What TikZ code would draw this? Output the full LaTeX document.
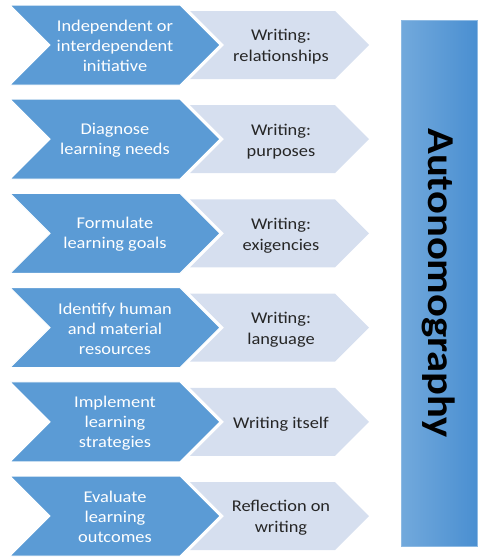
\documentclass[tikz,border=0pt]{standalone}
\usepackage{fontspec}
\setmainfont[FakeStretch=1.12]{Carlito}
\usetikzlibrary{calc}
\definecolor{darkblue}{HTML}{5B9BD5}
\definecolor{lightblue}{HTML}{D6DFEF}
\definecolor{txtgray}{HTML}{262626}
\definecolor{barleft}{HTML}{72A9DC}
\definecolor{barright}{HTML}{4A8FD1}
\tikzset{
  dk/.style={fill=darkblue, draw=white, line width=1pt},
  lt/.style={fill=lightblue, draw=none},
  dktext/.style={text=white, align=center, font=\fontsize{16.4}{20}\selectfont},
  lttext/.style={text=txtgray, align=center, font=\fontsize{16.4}{21}\selectfont},
}
\begin{document}
\begin{tikzpicture}[x=1pt,y=-1pt]
\useasboundingbox (0,0) rectangle (477,557);
\foreach \i/\a/\b in {0/{Independent or\\interdependent\\initiative}/{Writing:\\relationships},
                     1/{Diagnose\\learning needs}/{Writing:\\purposes},
                     2/{Formulate\\learning goals}/{Writing:\\exigencies},
                     3/{Identify human\\and material\\resources}/{Writing:\\language},
                     4/{Implement\\learning\\strategies}/{Writing itself},
                     5/{Evaluate\\learning\\outcomes}/{Reflection on\\writing}}{
  \pgfmathsetmacro{\c}{45+94.2*\i}
  \fill[lt] (190,\c-34) -- (335,\c-34) -- (369,\c) -- (335,\c+34) -- (190,\c+34) -- (224,\c) -- cycle;
  \fill[dk] (10,\c-40) -- (180,\c-40) -- (220,\c) -- (180,\c+40) -- (10,\c+40) -- (50,\c) -- cycle;
  \node[dktext] (d\i) at (115,\c+1) {\a};
  \node[lttext] (l\i) at (281,\c+2) {\b};
}
\shade[left color=barleft, right color=barright, draw=barleft!80!white, line width=0.8pt] (401,20) rectangle (477,546);
\node[rotate=-90, font=\bfseries\fontsize{38}{44}\selectfont, text=black] (auto) at (439,283) {Autonomography};
\end{tikzpicture}
\end{document}
